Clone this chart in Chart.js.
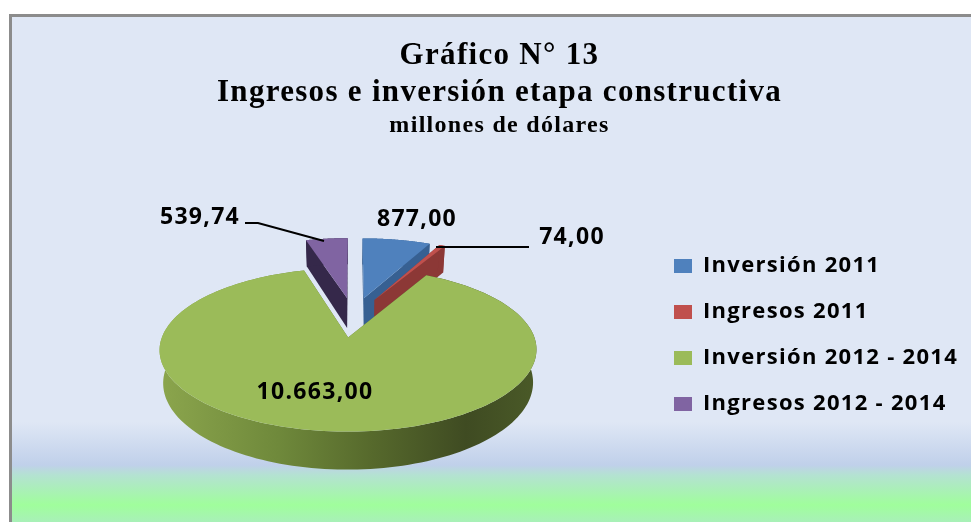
<!DOCTYPE html>
<html lang="es">
<head>
<meta charset="utf-8">
<title>Gráfico N° 13</title>
<script src="https://cdn.jsdelivr.net/npm/chart.js@4"></script>
<style>
html,body{margin:0;padding:0;background:#fff;width:971px;height:522px;overflow:hidden}
#panel{position:absolute;left:9px;top:14px;width:962px;height:508px;box-sizing:border-box;border-left:3px solid #8c8c8c;border-top:3px solid #8c8c8c;
background:linear-gradient(to bottom,#dfe7f5 0,#dfe7f5 405px,#c0d0ea 448px,#b4e2d2 458px,#a0fe9c 488px,#a8f0b8 505px)}
canvas{position:absolute;left:0;top:0}
</style>
</head>
<body>
<div id="panel"></div>
<canvas id="c" width="971" height="522"></canvas>
<script>
const categories = ['Inversión 2011','Ingresos 2011','Inversión 2012 - 2014','Ingresos 2012 - 2014'];
const seriesValues = [877, 74, 10663, 539.74];
const valueLabels = ['877,00','74,00','10.663,00','539,74'];
const topColors = ['#4f81bd','#c0504d','#9bbb59','#8064a2'];
const wallColors = ['#376092','#8c3836','#5f7a30','#35284a'];
const titleLines = ['Gráfico N° 13','Ingresos e inversión etapa constructiva'];
const subtitleLine = 'millones de dólares';

// 3-D look
const tilt = 0.412, persp = 0.000817, depth = 31, liftY = -7, shiftX = 13, taper = 0.0006;
const labelFont = 'bold 23px "Open Sans"';
const tracking = '1.3px';

function project(arc, theta, r, z) {
  const mid = (arc.startAngle + arc.endAngle) / 2, off = arc.options.offset;
  const u = r * Math.cos(theta) + off * Math.cos(mid);
  const v = r * Math.sin(theta) + off * Math.sin(mid);
  const s = 1 / (1 - persp * v);
  return [arc.x + shiftX + u * s * (1 - z * taper), arc.y + liftY + (tilt * v + z) * s];
}
function face(ctx, arc, z, fill) {
  ctx.beginPath();
  let p = project(arc, 0, 0, z);
  ctx.moveTo(p[0], p[1]);
  for (let i = 0; i <= 180; i++) {
    const t = arc.startAngle + (arc.endAngle - arc.startAngle) * i / 180;
    p = project(arc, t, arc.outerRadius, z);
    ctx.lineTo(p[0], p[1]);
  }
  ctx.closePath();
  ctx.fillStyle = fill;
  ctx.fill();
}
function quad(ctx, pts, fill) {
  ctx.beginPath();
  pts.forEach((p, i) => i ? ctx.lineTo(p[0], p[1]) : ctx.moveTo(p[0], p[1]));
  ctx.closePath();
  ctx.fillStyle = fill;
  ctx.fill();
}
function walls(ctx, arc, fill) {
  const R = arc.outerRadius;
  [arc.startAngle, arc.endAngle].forEach(t => quad(ctx, [
    project(arc, t, 0, 0), project(arc, t, R, 0), project(arc, t, R, depth), project(arc, t, 0, depth)
  ], fill));
  const n = 180, top = [], bot = [];
  for (let i = 0; i <= n; i++) {
    const t = arc.startAngle + (arc.endAngle - arc.startAngle) * i / n;
    top.push(project(arc, t, R, 0));
    bot.unshift(project(arc, t, R, depth));
  }
  quad(ctx, top.concat(bot), fill);
}

const pie3d = {
  id: 'pie3d',
  beforeLayout(chart) { chart.ctx.letterSpacing = tracking; },
  afterLayout(chart) {
    const o = chart.options.plugins.pie3d, l = chart.legend, w = l.right - l.left, h = l.bottom - l.top;
    l.left = o.legendLeft; l.right = l.left + w;
    l.top = o.legendMidY - h / 2; l.bottom = l.top + h;
  },
  beforeDraw(chart) { chart.ctx.letterSpacing = tracking; },
  beforeDatasetDraw(chart, args) {
    const ctx = chart.ctx, arcs = chart.getDatasetMeta(args.index).data;
    const order = arcs.map((a, i) => i).sort((a, b) =>
      project(arcs[a], 0, 0, 0)[1] - project(arcs[b], 0, 0, 0)[1] || a - b);
    ctx.save();
    order.forEach(i => {
      const arc = arcs[i];
      let wall = wallColors[i];
      if (arc.endAngle - arc.startAngle > Math.PI) {
        const l = arc.x + shiftX - arc.outerRadius * 1.05, r = arc.x + shiftX + arc.outerRadius * 1.05;
        wall = ctx.createLinearGradient(l, 0, r, 0);
        wall.addColorStop(0, '#8aa44c');
        wall.addColorStop(0.3, '#6f893b');
        wall.addColorStop(0.55, '#56692c');
        wall.addColorStop(0.8, '#3f4b22');
        wall.addColorStop(1, '#4b5b28');
      }
      walls(ctx, arc, wall);
      face(ctx, arc, 0, topColors[i]);
    });
    ctx.restore();
    return false;
  },
  afterDatasetsDraw(chart) {
    const ctx = chart.ctx, opts = chart.options.plugins.pie3d;
    ctx.save();
    ctx.strokeStyle = '#000';
    ctx.lineWidth = 2;
    opts.leaders.forEach(line => {
      ctx.beginPath();
      line.forEach((p, i) => i ? ctx.lineTo(p[0], p[1]) : ctx.moveTo(p[0], p[1]));
      ctx.stroke();
    });
    ctx.fillStyle = '#000';
    ctx.font = labelFont;
    ctx.textAlign = 'center';
    ctx.textBaseline = 'middle';
    valueLabels.forEach((t, i) => ctx.fillText(t, opts.labelAt[i][0], opts.labelAt[i][1]));
    ctx.restore();
  }
};

new Chart(document.getElementById('c'), {
  type: 'pie',
  data: {
    labels: categories,
    datasets: [{ data: seriesValues, backgroundColor: topColors, borderWidth: 0, offset: 48 }]
  },
  options: {
    responsive: false,
    animation: false,
    radius: 179,
    layout: { padding: { left: 36, right: 8, top: 16, bottom: 14 } },
    plugins: {
      tooltip: { enabled: false },
      title: {
        display: true,
        text: titleLines,
        color: '#000',
        font: { family: '"Liberation Serif"', size: 31, weight: 'bold', lineHeight: 1.194 },
        padding: { top: 21, bottom: 0 }
      },
      subtitle: {
        display: true,
        text: subtitleLine,
        color: '#000',
        font: { family: '"Liberation Serif"', size: 24, weight: 'bold', lineHeight: 1.2 },
        padding: { top: 0, bottom: 0 }
      },
      legend: {
        position: 'right',
        align: 'center',
        labels: {
          boxWidth: 18, boxHeight: 14, padding: 24, color: '#000',
          font: { family: '"Open Sans"', size: 22, weight: 'bold' }
        }
      },
      pie3d: {
        legendLeft: 650,
        legendMidY: 335,
        labelAt: [[417, 219], [572, 237], [315, 392], [200, 217]],
        leaders: [
          [[245, 223], [258, 223], [324, 241]],
          [[436, 247], [529, 247]]
        ]
      }
    }
  },
  plugins: [pie3d]
});
</script>
</body>
</html>
